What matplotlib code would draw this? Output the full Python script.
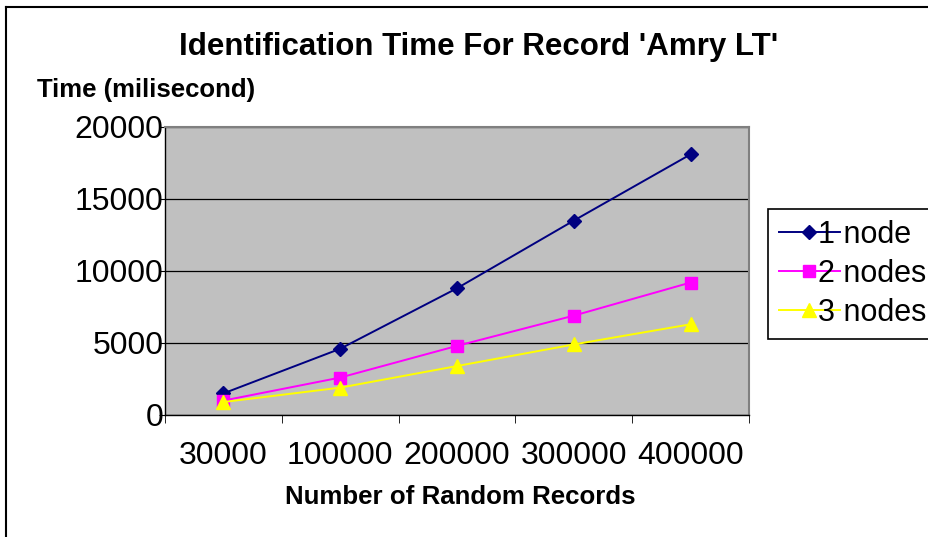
import matplotlib
matplotlib.use('Agg')
import matplotlib.pyplot as plt
from matplotlib.lines import Line2D

# data
records = ['30000', '100000', '200000', '300000', '400000']
one_node = [1500, 4600, 8800, 13500, 18100]
two_nodes = [1000, 2600, 4800, 6900, 9200]
three_nodes = [900, 1900, 3400, 4900, 6300]
y_ticks = [0, 5000, 10000, 15000, 20000]

plt.rcParams['font.family'] = ['Liberation Sans', 'DejaVu Sans']

fig = plt.figure(figsize=(9.29, 5.37), dpi=100)
ax = fig.add_axes([165 / 929, 1 - 415 / 537, (749 - 165) / 929, (415 - 127) / 537])
ax.set_facecolor('#C0C0C0')

x = list(range(len(records)))
ax.plot(x, one_node, color='#000080', lw=1.4, marker='D', ms=7, label='1 node')
ax.plot(x, two_nodes, color='#FF00FF', lw=1.4, marker='s', ms=8.5, label='2 nodes')
ax.plot(x, three_nodes, color='#FFFF00', lw=1.4, marker='^', ms=10, label='3 nodes')

ax.set_xlim(-0.5, len(records) - 0.5)
ax.set_ylim(0, 20000)
ax.set_yticks(y_ticks)
ax.set_yticklabels([str(v) for v in y_ticks], fontsize=23)
ax.yaxis.grid(True, color='black', lw=0.9)
ax.set_axisbelow(True)
ax.tick_params(axis='y', length=4, pad=-3, direction='out')

ax.set_xticks(x)
ax.set_xticklabels(records, fontsize=23)
ax.set_xticks([i - 0.5 for i in range(len(records) + 1)], minor=True)
ax.tick_params(axis='x', which='major', length=0, pad=19)
ax.tick_params(axis='x', which='minor', length=6, direction='out')

for side in ['top', 'right']:
    ax.spines[side].set_color('#808080')
    ax.spines[side].set_linewidth(1.5)
for side in ['left', 'bottom']:
    ax.spines[side].set_color('black')
    ax.spines[side].set_linewidth(1)

fig.text(479 / 929, 1 - 47 / 537, "Identification Time For Record 'Amry LT'",
         ha='center', va='center', fontsize=22.5, fontweight='bold')
fig.text(37 / 929, 1 - 90 / 537, 'Time (milisecond)',
         ha='left', va='center', fontsize=18.5, fontweight='bold')
fig.text(460 / 929, 1 - 497 / 537, 'Number of Random Records',
         ha='center', va='center', fontsize=18.6, fontweight='bold')

leg = ax.legend(loc='upper left', bbox_to_anchor=(768 / 929, 1 - 209 / 537),
                bbox_transform=fig.transFigure, fontsize=22, frameon=True,
                fancybox=False, framealpha=1, edgecolor='black',
                handlelength=2.0, handletextpad=-0.7, labelspacing=0.3,
                borderpad=0.35, borderaxespad=0)
leg.get_frame().set_linewidth(1.2)

# outer chart border (left and top visible)
fig.add_artist(Line2D([6 / 929, 6 / 929], [0, 1 - 7 / 537], color='black', lw=1.5))
fig.add_artist(Line2D([6 / 929, 1], [1 - 7 / 537, 1 - 7 / 537], color='black', lw=1.5))

fig.savefig('out.png', dpi=100)
